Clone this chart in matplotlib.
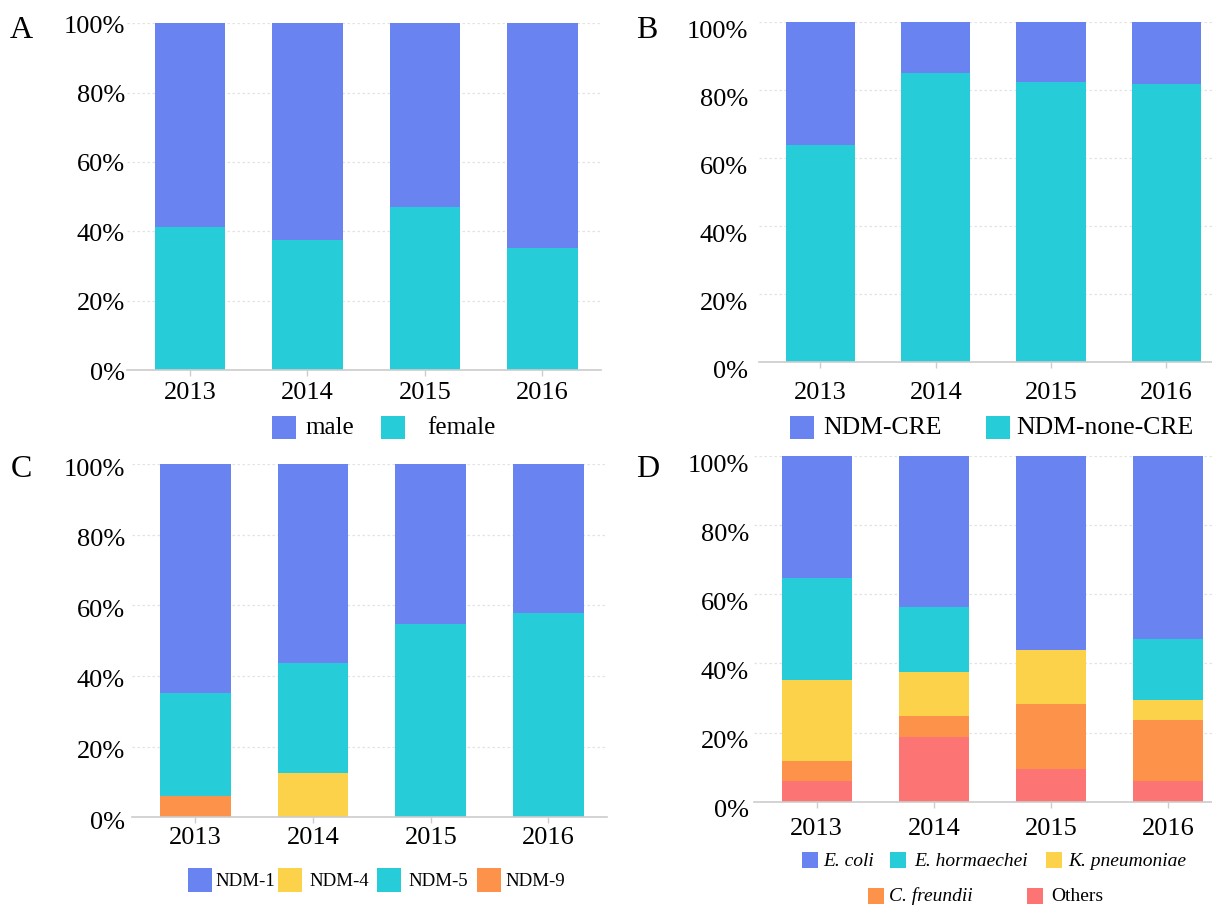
import matplotlib
matplotlib.use("Agg")
import matplotlib.pyplot as plt
from matplotlib.patches import Rectangle
from matplotlib.transforms import ScaledTranslation

plt.rcParams["font.family"] = ["Liberation Serif", "DejaVu Serif"]

# ---------------- data (percent of isolates per year) ----------------
years = ["2013", "2014", "2015", "2016"]

# A: sex
sex_labels = ["male", "female"]
male = [58.8, 62.5, 53.1, 64.7]
female = [41.2, 37.5, 46.9, 35.3]

# B: carbapenem resistance
cre_labels = ["NDM-CRE", "NDM-none-CRE"]
ndm_cre = [36.2, 14.8, 17.7, 18.2]
ndm_none_cre = [63.8, 85.2, 82.3, 81.8]

# C: NDM variants
variant_labels = ["NDM-1", "NDM-4", "NDM-5", "NDM-9"]
ndm1 = [64.7, 56.3, 45.4, 42.1]
ndm4 = [0.0, 12.5, 0.0, 0.0]
ndm5 = [29.4, 31.2, 54.6, 57.9]
ndm9 = [5.9, 0.0, 0.0, 0.0]

# D: species
species_labels = ["E. coli", "E. hormaechei", "K. pneumoniae", "C. freundii", "Others"]
e_coli = [35.3, 43.8, 56.2, 53.0]
e_hormaechei = [29.4, 18.8, 0.0, 17.6]
k_pneumoniae = [23.5, 12.5, 15.6, 5.9]
c_freundii = [5.9, 6.2, 18.8, 17.6]
others = [5.9, 18.7, 9.4, 5.9]

BLUE = "#6983f0"
CYAN = "#26cdd8"
YELLOW = "#fdd24b"
ORANGE = "#fd924b"
RED = "#fd7474"

W, H = 1212, 905
fig = plt.figure(figsize=(W / 100, H / 100), dpi=100)


def px_axes(left, top, right, bottom):
    return fig.add_axes([left / W, 1 - bottom / H, (right - left) / W, (bottom - top) / H])


def style_axes(ax, ypad, xpad, ydy):
    ax.set_xlim(-0.535, 3.5)
    ax.set_ylim(0, 100)
    ax.set_yticks([0, 20, 40, 60, 80, 100])
    ax.set_yticklabels([f"{v}%" for v in [0, 20, 40, 60, 80, 100]])
    ax.set_xticks(range(len(years)))
    ax.set_xticklabels(years)
    for s in ["top", "right", "left"]:
        ax.spines[s].set_visible(False)
    ax.spines["bottom"].set_color("#cccccc")
    ax.spines["bottom"].set_linewidth(1.2)
    ax.tick_params(axis="y", length=0, pad=ypad, labelsize=19)
    ax.tick_params(axis="x", length=4, width=1, color="#cccccc", pad=xpad, labelsize=19)
    for v in [20, 40, 60, 80, 100]:
        ax.axhline(v, color="#e3e3e3", lw=0.9, ls=(0, (2, 2)), zorder=0)
    off = ScaledTranslation(0, -ydy / 100, fig.dpi_scale_trans)
    for lab in ax.get_yticklabels():
        lab.set_transform(lab.get_transform() + off)


def stack(ax, series, colors):
    bottom = [0.0] * len(years)
    for vals, c in zip(series, colors):
        ax.bar(range(len(years)), vals, bottom=bottom, width=0.6, color=c,
               edgecolor="none", zorder=2)
        bottom = [b + v for b, v in zip(bottom, vals)]


def key(x, y, w, h, color):
    fig.patches.append(Rectangle((x / W, 1 - (y + h) / H), w / W, h / H,
                                 transform=fig.transFigure, facecolor=color,
                                 edgecolor="none"))


def label(x, y, text, size, style="normal"):
    fig.text(x / W, 1 - y / H, text, fontsize=size, style=style,
             ha="left", va="center")


def letter(x, y, text):
    fig.text(x / W, 1 - y / H, text, fontsize=23, ha="left", va="baseline")


# ---------------- A ----------------
axA = px_axes(127.1, 23.3, 601.2, 370.0)
style_axes(axA, ypad=1.5, xpad=4.3, ydy=1)
stack(axA, [female, male], [CYAN, BLUE])
letter(10, 38.3, "A")
key(272, 416, 24, 23.3, BLUE)
label(305, 427.7, sex_labels[0], 18)
key(381, 416, 24, 23.3, CYAN)
label(427, 427.7, sex_labels[1], 18)

# ---------------- B ----------------
axB = px_axes(758.8, 22.3, 1224.0, 362.3)
style_axes(axB, ypad=7.7, xpad=9.9, ydy=7)
stack(axB, [ndm_none_cre, ndm_cre], [CYAN, BLUE])
letter(636, 38.3, "B")
key(790, 416, 24, 23.3, BLUE)
label(823.6, 427.7, cre_labels[0], 18.5)
key(985.6, 416, 24, 23.3, CYAN)
label(1016.5, 427.7, cre_labels[1], 18.5)

# ---------------- C ----------------
axC = px_axes(132.4, 464.0, 607.3, 817.3)
style_axes(axC, ypad=5.5, xpad=2.7, ydy=3)
stack(axC, [ndm9, ndm4, ndm5, ndm1], [ORANGE, YELLOW, CYAN, BLUE])
letter(10.8, 476.7, "C")
for x_key, x_txt, name, c in zip([187.5, 278, 377, 477], [215, 309, 408.6, 505],
                                 variant_labels, [BLUE, YELLOW, CYAN, ORANGE]):
    key(x_key, 868.3, 24, 23.4, c)
    label(x_txt, 881.7, name, 13.6)

# ---------------- D ----------------
axD = px_axes(754.0, 456.0, 1226.9, 801.7)
style_axes(axD, ypad=3.6, xpad=7.9, ydy=7)
stack(axD, [others, c_freundii, k_pneumoniae, e_hormaechei, e_coli],
      [RED, ORANGE, YELLOW, CYAN, BLUE])
letter(636, 476.7, "D")
d_keys = [(801.6, 852.3, 823, 861), (890, 852.3, 914, 861), (1045.5, 852.3, 1068.7, 861),
          (868, 888.3, 889, 896), (1026.6, 888.3, 1051, 896)]
for (kx, ky, tx, ty), name, c in zip(d_keys, species_labels,
                                     [BLUE, CYAN, YELLOW, ORANGE, RED]):
    key(kx, ky, 16, 16, c)
    label(tx, ty, name, 14, "normal" if name == "Others" else "italic")

fig.savefig("out.png", dpi=100)
